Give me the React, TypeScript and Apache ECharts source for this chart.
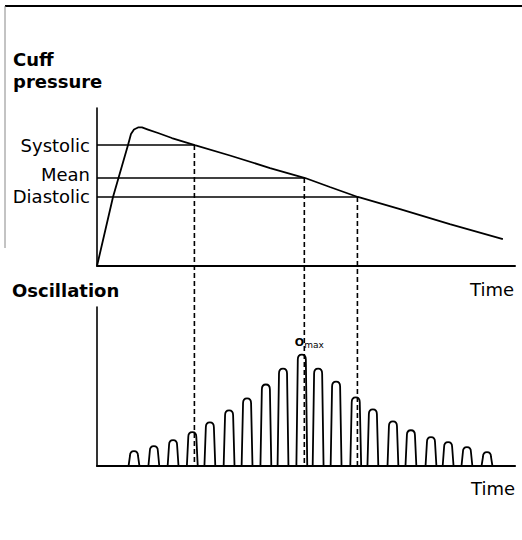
import React, { useEffect, useRef } from "react";
import * as echarts from "echarts";

// Cuff pressure trace (time in arbitrary units 0..100, pressure in arbitrary units 0..160)
const curveTime = [0, 3.83, 7.42, 8.13, 8.85, 9.81, 10.77, 12.2, 14.6, 17.9, 23.4, 31.8, 41.4, 49.8, 55.7, 62.4, 72.5, 84.4, 97.1];
const curvePressure = [0, 69.9, 122.5, 133.7, 138.2, 140.3, 140.3, 138.2, 134.7, 129.6, 122.5, 111.9, 99.2, 89.1, 80.0, 69.9, 57.7, 42.5, 27.3];

// Reference pressures
const refLabels = ["Systolic", "Mean", "Diastolic"];
const refPressure = [122.5, 89.1, 69.9];
const refTime = [23.3, 49.6, 62.3];

// Oscillation pulses
const pulseTime = [8.85, 13.6, 18.2, 22.8, 27.0, 31.6, 35.9, 40.4, 44.5, 49.0, 52.9, 57.2, 61.9, 66.0, 70.8, 75.1, 79.9, 84.0, 88.5, 93.3];
const pulseAmp = [15, 20, 26, 34, 44, 56, 68, 82, 98, 112, 98, 85, 69, 57, 45, 36, 29, 24, 19, 14];
const omaxIndex = 9;
const pulseWidth = 2.6;

const INK = "#000";
const FONT = "DejaVu Sans";

export default function App() {
  const ref = useRef<HTMLDivElement>(null);

  useEffect(() => {
    document.body.style.margin = "0";
    if (!ref.current) return;
    const chart = echarts.init(ref.current, undefined, { renderer: "svg" });

    const axisCommon = {
      axisTick: { show: false },
      axisLabel: { show: false },
      splitLine: { show: false },
    };

    const option: any = {
      animation: false,
      backgroundColor: "#fff",
      grid: [
        { left: 97, top: 108, width: 418, height: 158, containLabel: false, outerBoundsMode: "none" },
        { left: 97, top: 307, width: 418, height: 159, containLabel: false, outerBoundsMode: "none" },
      ],
      xAxis: [
        { type: "value", gridIndex: 0, min: 0, max: 100, ...axisCommon, axisLine: { show: true, onZero: false, lineStyle: { color: INK, width: 2 } } },
        { type: "value", gridIndex: 1, min: 0, max: 100, ...axisCommon, axisLine: { show: true, onZero: false, lineStyle: { color: INK, width: 2.2 } } },
      ],
      yAxis: [
        { type: "value", gridIndex: 0, min: 0, max: 160, ...axisCommon, axisLine: { show: true, onZero: false, lineStyle: { color: INK, width: 1.6 } } },
        { type: "value", gridIndex: 1, min: 0, max: 160, ...axisCommon, axisLine: { show: true, onZero: false, lineStyle: { color: INK, width: 1.6 } } },
      ],
      series: [
        {
          type: "line",
          xAxisIndex: 0,
          yAxisIndex: 0,
          data: curveTime.map((t, i) => [t, curvePressure[i]]),
          symbol: "none",
          lineStyle: { color: INK, width: 1.8 },
          silent: true,
          z: 3,
        },
        ...refPressure.map((p, i) => ({
          type: "line",
          xAxisIndex: 0,
          yAxisIndex: 0,
          data: [[0, p], [refTime[i], p]],
          symbol: "none",
          lineStyle: { color: INK, width: 1.4 },
          silent: true,
        })),
        {
          type: "custom",
          xAxisIndex: 1,
          yAxisIndex: 1,
          silent: true,
          data: pulseTime.map((t, i) => [t, pulseAmp[i]]),
          renderItem: (params: any, api: any) => {
            const t = api.value(0);
            const a = api.value(1);
            const base = api.coord([t, 0]);
            const top = api.coord([t, a]);
            const w = api.size([pulseWidth, 0])[0];
            const hw = w / 2;
            const tw = w * 0.37;
            const h = base[1] - top[1];
            const r = Math.min(w * 0.45, h * 0.5);
            const cx = base[0];
            const by = base[1];
            const ty = top[1];
            const d =
              `M${cx - hw},${by} L${cx - tw},${ty + r} ` +
              `C${cx - tw},${ty + r * 0.3} ${cx - tw * 0.6},${ty} ${cx},${ty} ` +
              `C${cx + tw * 0.6},${ty} ${cx + tw},${ty + r * 0.3} ${cx + tw},${ty + r} ` +
              `L${cx + hw},${by}`;
            return {
              type: "path",
              shape: { pathData: d },
              style: { fill: "none", stroke: INK, lineWidth: 1.8 },
            };
          },
        },
      ],
    };

    chart.setOption(option);

    const elements: any[] = [];
    // frame
    elements.push({ type: "line", shape: { x1: 5, y1: 6, x2: 522, y2: 6 }, style: { stroke: INK, lineWidth: 2 }, silent: true });
    elements.push({ type: "line", shape: { x1: 5, y1: 6, x2: 5, y2: 248 }, style: { stroke: "#888", lineWidth: 1 }, silent: true });
    // titles
    const txt = (text: string, x: number, y: number, bold: boolean, size = 18, align = "left") => ({
      type: "text",
      x,
      y,
      silent: true,
      style: { text, fill: INK, font: `${bold ? "bold " : ""}${size}px "${FONT}"`, align, verticalAlign: "middle" },
    });
    elements.push(txt("Cuff", 13, 59, true));
    elements.push(txt("pressure", 13, 81, true));
    elements.push(txt("Oscillation", 12, 290, true));
    elements.push(txt("Time", 470, 289, false));
    elements.push(txt("Time", 471, 488, false));

    // reference labels, positioned on the pressure axis
    refPressure.forEach((p, i) => {
      const pt = chart.convertToPixel({ xAxisIndex: 0, yAxisIndex: 0 }, [0, p]) as number[];
      elements.push(txt(refLabels[i], pt[0] - 7, pt[1] + (i === 1 ? -4 : 0), false, 18, "right"));
    });

    // O_max label above the largest pulse
    const om = chart.convertToPixel({ xAxisIndex: 1, yAxisIndex: 1 }, [pulseTime[omaxIndex], pulseAmp[omaxIndex]]) as number[];
    elements.push({
      type: "text",
      x: om[0] - 7,
      y: om[1] - 5,
      silent: true,
      style: {
        text: "{o|O}{m|max}",
        verticalAlign: "bottom",
        align: "left",
        rich: {
          o: { fontFamily: FONT, fontSize: 11, fill: INK, fontWeight: "bold" },
          m: { fontFamily: FONT, fontSize: 9, fill: INK, padding: [5, 0, 0, 0] },
        },
      },
    });

    // dashed projection lines from the pressure trace to the oscillation baseline
    refTime.forEach((t, i) => {
      const p1 = chart.convertToPixel({ xAxisIndex: 0, yAxisIndex: 0 }, [t, refPressure[i]]) as number[];
      const p2 = chart.convertToPixel({ xAxisIndex: 1, yAxisIndex: 1 }, [t, 0]) as number[];
      elements.push({
        type: "line",
        shape: { x1: p1[0], y1: p1[1], x2: p2[0], y2: p2[1] },
        style: { stroke: INK, lineWidth: 1.6, lineDash: [5, 3] },
        silent: true,
        z: 10,
      });
    });

    chart.setOption({ graphic: { elements } });

    return () => chart.dispose();
  }, []);

  return <div ref={ref} style={{ width: 522, height: 540 }} />;
}
